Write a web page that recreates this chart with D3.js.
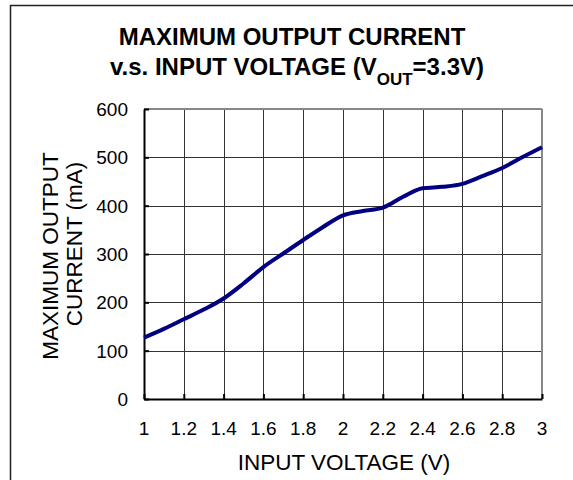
<!DOCTYPE html>
<html>
<head>
<meta charset="utf-8">
<script src="https://cdn.jsdelivr.net/npm/d3@7"></script>
<style>
  body { margin: 0; background: #fff; }
  svg { display: block; font-family: "Liberation Sans", Arial, sans-serif; }
</style>
</head>
<body>
<svg id="chart" width="573" height="480"></svg>
<script>
// input voltage (V) and max output current (mA)
var voltage = [1.0, 1.1, 1.2, 1.3, 1.4, 1.5, 1.6, 1.7, 1.8, 1.9, 2.0,
               2.1, 2.2, 2.3, 2.4, 2.5, 2.6, 2.7, 2.8, 2.9, 3.0];
var current = [127, 145, 165, 185, 208, 239, 273, 301, 329, 356, 380,
               389, 396, 418, 436, 439, 445, 461, 478, 500, 521];
var xTicks = [1, 1.2, 1.4, 1.6, 1.8, 2, 2.2, 2.4, 2.6, 2.8, 3];
var yTicks = [0, 100, 200, 300, 400, 500, 600];

var svg = d3.select("#chart");
var plotLeft = 144, plotRight = 542, plotTop = 109, plotBottom = 399;

// outer frame (only top and left edges show inside the window)
svg.append("rect")
  .attr("x", 10.5).attr("y", 5.5)
  .attr("width", 700).attr("height", 600)
  .style("fill", "none")
  .style("stroke", "#222")
  .style("stroke-width", 1.5);

var xScale = d3.scaleLinear().domain([1, 3]).range([plotLeft, plotRight]);
var yScale = d3.scaleLinear().domain([0, 600]).range([plotBottom, plotTop]);

// title
svg.append("text")
  .attr("x", 292).attr("y", 45)
  .style("text-anchor", "middle")
  .style("font-size", "24px")
  .style("font-weight", "bold")
  .text("MAXIMUM OUTPUT CURRENT");

var title2 = svg.append("text")
  .attr("x", 297).attr("y", 75)
  .style("text-anchor", "middle")
  .style("font-size", "24px")
  .style("font-weight", "bold");
title2.append("tspan").text("v.s. INPUT VOLTAGE (V");
title2.append("tspan").attr("dy", 10).style("font-size", "17px").text("OUT");
title2.append("tspan").attr("dy", -10).text("=3.3V)");

// grid
var g = svg.append("g");
g.selectAll(".vgrid").data(xTicks)
  .enter().append("line")
  .attr("x1", d => Math.round(xScale(d)) + 0.5)
  .attr("x2", d => Math.round(xScale(d)) + 0.5)
  .attr("y1", plotTop).attr("y2", plotBottom)
  .style("stroke", "#333").style("stroke-width", 1);

g.selectAll(".hgrid").data(yTicks)
  .enter().append("line")
  .attr("y1", d => Math.round(yScale(d)) + 0.5)
  .attr("y2", d => Math.round(yScale(d)) + 0.5)
  .attr("x1", plotLeft).attr("x2", plotRight)
  .style("stroke", "#333").style("stroke-width", 1);

// plot frame: grey top/right, black left/bottom
g.append("line").attr("x1", plotLeft).attr("x2", plotRight).attr("y1", plotTop).attr("y2", plotTop)
  .style("stroke", "#888").style("stroke-width", 2);
g.append("line").attr("x1", plotRight).attr("x2", plotRight).attr("y1", plotTop).attr("y2", plotBottom)
  .style("stroke", "#888").style("stroke-width", 2);

// axes with small inward ticks
var yAxis = d3.axisRight(yScale).tickValues(yTicks).tickSize(5).tickSizeOuter(0).tickFormat("");
svg.append("g").attr("transform", "translate(" + plotLeft + ",0)").call(yAxis)
  .call(a => a.selectAll("path, line").style("stroke", "#000").style("stroke-width", 2));
var xAxis = d3.axisTop(xScale).tickValues(xTicks).tickSize(5).tickSizeOuter(0).tickFormat("");
svg.append("g").attr("transform", "translate(0," + plotBottom + ")").call(xAxis)
  .call(a => a.selectAll("path, line").style("stroke", "#000").style("stroke-width", 2));

// tick labels
svg.selectAll(".ylab").data(yTicks)
  .enter().append("text")
  .attr("x", 128).attr("y", d => yScale(d))
  .attr("dy", "0.36em")
  .style("text-anchor", "end")
  .style("font-size", "19px")
  .text(d => d);

svg.selectAll(".xlab").data(xTicks)
  .enter().append("text")
  .attr("x", d => xScale(d)).attr("y", 435)
  .style("text-anchor", "middle")
  .style("font-size", "19px")
  .text(d => d);

// axis titles
svg.append("text")
  .attr("x", 344).attr("y", 470)
  .style("text-anchor", "middle")
  .style("font-size", "22.5px")
  .text("INPUT VOLTAGE (V)");

svg.append("text")
  .attr("transform", "translate(58,256) rotate(-90)")
  .style("text-anchor", "middle")
  .style("font-size", "22.5px")
  .text("MAXIMUM OUTPUT");
svg.append("text")
  .attr("transform", "translate(82,244) rotate(-90)")
  .style("text-anchor", "middle")
  .style("font-size", "22.5px")
  .text("CURRENT (mA)");

// curve
var line = d3.line()
  .x((d, i) => xScale(voltage[i]))
  .y(d => yScale(d))
  .curve(d3.curveMonotoneX);

svg.append("path")
  .datum(current)
  .attr("d", line)
  .style("fill", "none")
  .style("stroke", "#000080")
  .style("stroke-width", 4);
</script>
</body>
</html>
